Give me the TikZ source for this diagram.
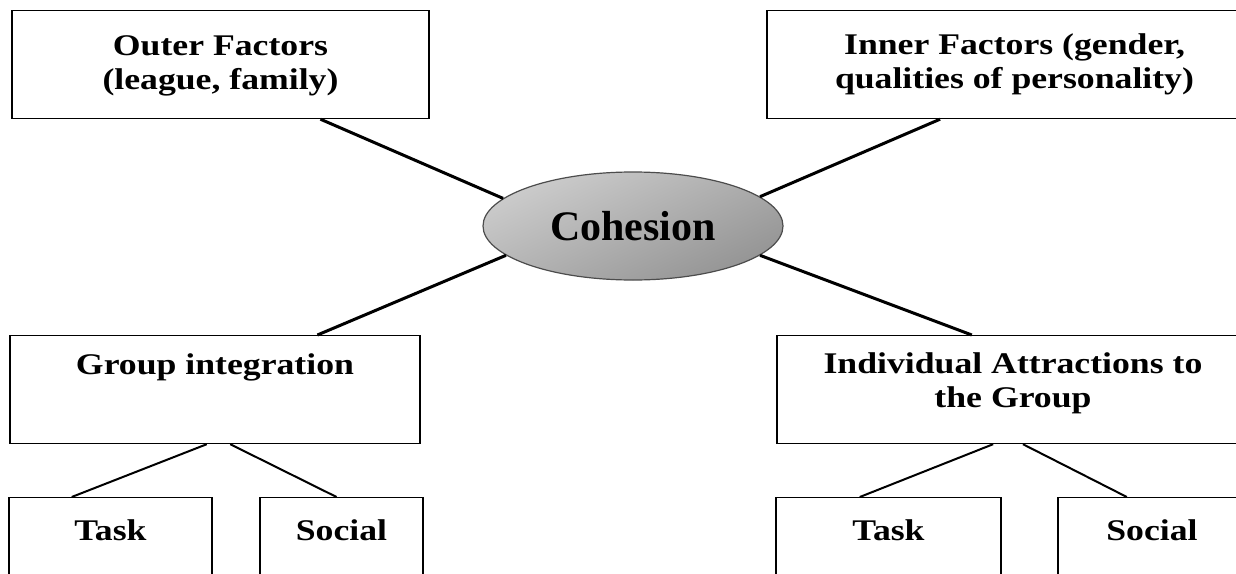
\documentclass[tikz,border=0pt]{standalone}
\usepackage{fontspec}
\setmainfont{Liberation Serif}
\newfontfamily\boxfont{Liberation Serif}[FakeStretch=1.19]
\usetikzlibrary{shapes.geometric,calc}

\tikzset{
  box/.style={draw, line width=0.6pt, inner sep=0pt, align=center, anchor=north,
    font=\boxfont\fontsize{15}{17}\selectfont\bfseries},
  topline/.style={box, text height=#1},
  link/.style={line width=1.5pt},
  sublink/.style={line width=1pt}
}

\begin{document}
\begin{tikzpicture}[x=0.5pt, y=-0.5pt]
\useasboundingbox (0,0) rectangle (1236,573);
\clip (0,0) rectangle (1236,573);

% centre
\node [ellipse, draw=black!70, line width=0.6pt, inner sep=0pt,
  minimum width=150pt, minimum height=54pt,
  top color=black!20, bottom color=black!42, shading angle=25,
  font=\fontsize{21}{25}\selectfont\bfseries] (coh) at (633,226) {Cohesion};

% factors
\node [topline=39.5pt, text depth=14.5pt, minimum width=208.5pt] (outer) at (220.5,10) {Outer Factors\\(league, family)};
\node [topline=39pt, text depth=15pt, minimum width=247.5pt] (inner) at (1014.5,10) {Inner Factors (gender,\\qualities of personality)};

% attractions
\node [topline=19.5pt, text depth=34.5pt, minimum width=205pt] (group) at (215,335) {Group integration};
\node [topline=36pt, text depth=18pt, minimum width=236pt] (indiv) at (1013,335) {Individual Attractions to\\the Group};

% task / social
\node [topline=21.5pt, text depth=40pt, minimum width=101.5pt] (taskl) at (110.5,497) {Task};
\node [topline=21.5pt, text depth=40pt, minimum width=81.5pt] (socl) at (341.5,497) {Social};
\node [topline=21.5pt, text depth=40pt, minimum width=112.5pt] (taskr) at (888.5,497) {Task};
\node [topline=21.5pt, text depth=40pt, minimum width=94pt] (socr) at (1152,497) {Social};

% links to the centre
\draw [link] ($(outer.south west)!0.739!(outer.south east)$) -- (coh.168);
\draw [link] ($(inner.south west)!0.35!(inner.south east)$) -- (coh.13);
\draw [link] ($(group.north west)!0.749!(group.north east)$) -- (coh.193);
\draw [link] ($(indiv.north west)!0.413!(indiv.north east)$) -- (coh.347);

% links below
\draw [sublink] ($(group.south west)!0.48!(group.south east)$) -- ($(taskl.north west)!0.31!(taskl.north east)$);
\draw [sublink] ($(group.south west)!0.537!(group.south east)$) -- ($(socl.north west)!0.47!(socl.north east)$);
\draw [sublink] ($(indiv.south west)!0.458!(indiv.south east)$) -- ($(taskr.north west)!0.373!(taskr.north east)$);
\draw [sublink] ($(indiv.south west)!0.521!(indiv.south east)$) -- ($(socr.north west)!0.367!(socr.north east)$);

\end{tikzpicture}
\end{document}
